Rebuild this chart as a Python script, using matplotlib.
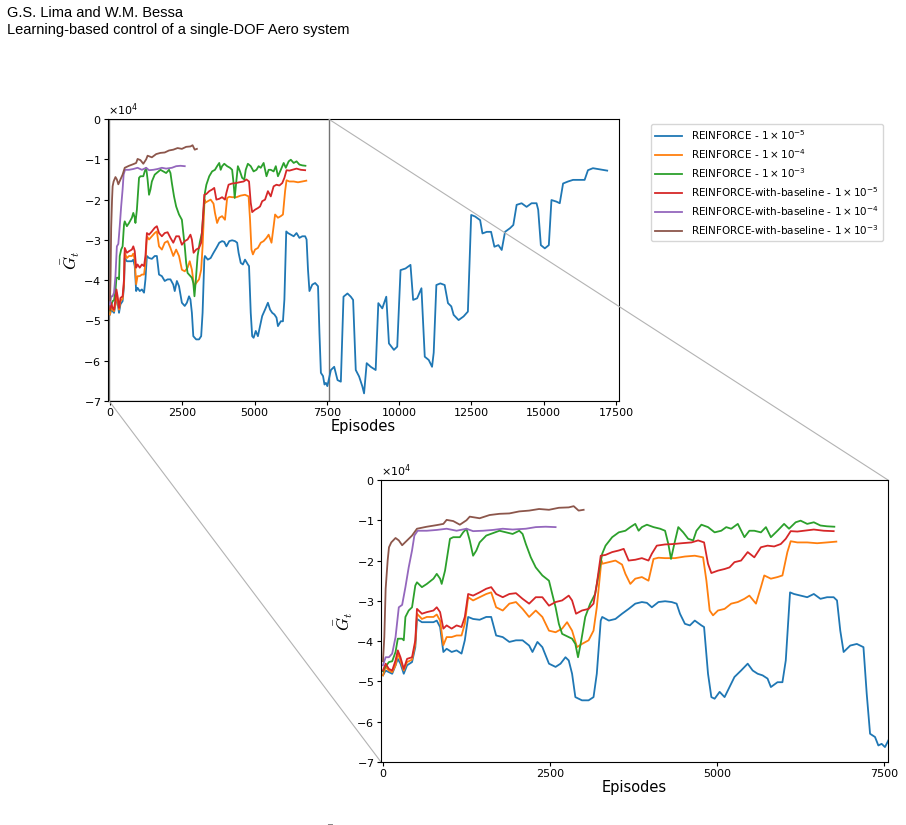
import matplotlib
matplotlib.use("Agg")
import matplotlib.pyplot as plt
from mpl_toolkits.axes_grid1.inset_locator import mark_inset

plt.rcParams['axes.unicode_minus'] = False
plt.rcParams['mathtext.fontset'] = 'dejavusans'

# values are in units of 1e4
SCALE = 1e4

labels = [
    r'REINFORCE - $1\times10^{-5}$',
    r'REINFORCE - $1\times10^{-4}$',
    r'REINFORCE - $1\times10^{-3}$',
    r'REINFORCE-with-baseline - $1\times10^{-5}$',
    r'REINFORCE-with-baseline - $1\times10^{-4}$',
    r'REINFORCE-with-baseline - $1\times10^{-3}$',
]
colors = ['#1f77b4', '#ff7f0e', '#2ca02c', '#d62728', '#9467bd', '#8c564b']

blue_ep = [0, 40, 89, 138, 188, 222, 262, 311, 361, 435, 484, 509, 583, 657, 756, 805, 855, 904, 953, 1028,
           1102, 1176, 1225, 1275, 1349, 1447, 1546, 1620, 1694, 1793, 1892, 1991, 2090, 2188, 2238, 2312, 2386,
           2485, 2584, 2658, 2732, 2781, 2831, 2880, 2979, 3078, 3152, 3201, 3260, 3282, 3381, 3480, 3579, 3678,
           3777, 3876, 3951, 4025, 4124, 4223, 4322, 4396, 4446, 4520, 4594, 4668, 4767, 4807, 4866, 4916, 4965,
           5040, 5114, 5188, 5262, 5361, 5460, 5535, 5609, 5683, 5757, 5807, 5906, 5980, 6030, 6094, 6153, 6252,
           6351, 6450, 6549, 6648, 6747, 6797, 6846, 6896, 6995, 7094, 7193, 7242, 7292, 7366, 7416, 7465, 7515,
           7638, 7752, 7867, 7982, 8074, 8211, 8326, 8406, 8498, 8613, 8727, 8785, 8876, 9014, 9186, 9278, 9415,
           9553, 9645, 9817, 9932, 10046, 10218, 10390, 10482, 10620, 10769, 10884, 11021, 11136, 11193, 11285,
           11423, 11572, 11687, 11801, 11882, 12054, 12226, 12375, 12489, 12627, 12799, 12879, 13028, 13177, 13292,
           13430, 13545, 13660, 13831, 13946, 14061, 14233, 14405, 14577, 14749, 14806, 14898, 15036, 15174, 15265,
           15437, 15552, 15667, 15839, 16011, 16240, 16412, 16527, 16699, 16871, 17043, 17192]
blue_g = [-4.85, -4.73, -4.77, -4.81, -4.6, -4.44, -4.56, -4.81, -4.6, -4.52, -4.15, -3.45, -3.53, -3.53, -3.53,
          -3.49, -3.65, -4.27, -4.19, -4.27, -4.23, -4.31, -3.98, -3.4, -3.45, -3.47, -3.4, -3.4, -3.86, -3.9,
          -4.02, -3.98, -3.98, -4.11, -4.27, -4.02, -4.15, -4.56, -4.64, -4.56, -4.4, -4.48, -4.81, -5.39, -5.47,
          -5.47, -5.39, -4.81, -3.49, -3.4, -3.49, -3.45, -3.32, -3.2, -3.07, -3.03, -3.05, -3.16, -3.03, -3.01,
          -3.03, -3.07, -3.32, -3.57, -3.61, -3.49, -3.61, -3.65, -4.81, -5.39, -5.43, -5.26, -5.39, -5.14, -4.89,
          -4.73, -4.56, -4.73, -4.81, -4.85, -4.93, -5.14, -5.02, -5.02, -4.48, -2.79, -2.83, -2.87, -2.91, -2.83,
          -2.95, -2.91, -2.91, -2.99, -3.74, -4.27, -4.11, -4.07, -4.15, -5.31, -6.3, -6.38, -6.59, -6.55, -6.63,
          -6.23, -6.15, -6.48, -6.52, -4.41, -4.33, -4.41, -4.49, -6.23, -6.39, -6.64, -6.81, -6.06, -6.15, -6.23,
          -4.57, -4.7, -4.41, -5.57, -5.73, -5.65, -3.75, -3.71, -3.62, -4.49, -4.45, -4.2, -5.9, -5.98, -6.15,
          -5.8, -4.12, -4.08, -4.12, -4.57, -4.65, -4.86, -4.99, -4.9, -4.78, -2.38, -2.42, -2.51, -2.84, -2.8,
          -2.8, -3.17, -3.13, -3.25, -2.8, -2.71, -2.63, -2.13, -2.09, -2.18, -2.09, -2.09, -2.25, -3.13, -3.21,
          -3.13, -2.01, -2.05, -2.09, -1.6, -1.55, -1.51, -1.51, -1.51, -1.27, -1.22, -1.24, -1.26, -1.28]

orange_ep = [0, 40, 89, 138, 188, 222, 262, 311, 361, 435, 484, 509, 583, 657, 756, 805, 855, 904, 953, 1028,
             1102, 1176, 1225, 1275, 1349, 1447, 1546, 1620, 1694, 1793, 1892, 1991, 2090, 2188, 2287, 2386, 2485,
             2584, 2682, 2756, 2831, 2905, 2979, 3078, 3152, 3201, 3270, 3282, 3381, 3480, 3579, 3629, 3703, 3777,
             3876, 3975, 4050, 4124, 4223, 4371, 4520, 4668, 4792, 4842, 4891, 4941, 5015, 5114, 5213, 5312, 5411,
             5485, 5584, 5658, 5708, 5807, 5906, 5980, 6054, 6104, 6203, 6351, 6500, 6648, 6787]
orange_g = [-4.85, -4.64, -4.73, -4.77, -4.6, -4.31, -4.48, -4.73, -4.52, -4.46, -4.07, -3.32, -3.45, -3.4, -3.4,
            -3.34, -3.49, -4.1, -3.9, -3.9, -3.86, -3.86, -3.57, -2.91, -2.99, -2.91, -2.83, -2.79, -3.16, -3.24,
            -3.07, -3.03, -3.2, -3.4, -3.24, -3.4, -3.74, -3.78, -3.69, -3.53, -3.74, -4.15, -4.07, -3.98, -3.74,
            -3.16, -2.0, -2.08, -2.04, -2.0, -2.1, -2.33, -2.58, -2.45, -2.41, -2.5, -1.96, -1.93, -1.94, -1.94,
            -1.9, -1.88, -1.92, -2.5, -3.24, -3.36, -3.24, -3.2, -3.07, -3.03, -2.95, -2.87, -3.07, -2.66, -2.37,
            -2.45, -2.41, -2.37, -1.79, -1.52, -1.55, -1.55, -1.57, -1.55, -1.53]

green_ep = [0, 15, 89, 138, 188, 222, 287, 311, 336, 385, 435, 484, 509, 583, 657, 756, 805, 855, 879, 929,
            1003, 1052, 1151, 1200, 1250, 1299, 1349, 1398, 1447, 1546, 1645, 1744, 1843, 1941, 2040, 2090, 2139,
            2213, 2287, 2386, 2485, 2534, 2584, 2633, 2682, 2781, 2831, 2880, 2920, 2969, 3028, 3102, 3176, 3282,
            3332, 3431, 3530, 3629, 3703, 3777, 3827, 3876, 3951, 4050, 4149, 4223, 4272, 4312, 4361, 4421, 4495,
            4569, 4644, 4693, 4767, 4866, 4965, 5064, 5139, 5213, 5312, 5411, 5485, 5559, 5658, 5733, 5807, 5906,
            6005, 6079, 6178, 6252, 6351, 6450, 6549, 6648, 6757]
green_g = [-4.75, -4.69, -4.52, -4.5, -4.27, -3.94, -3.94, -3.98, -3.4, -3.24, -3.16, -2.62, -2.54, -2.66, -2.58,
           -2.45, -2.33, -2.45, -2.58, -2.25, -1.46, -1.42, -1.42, -1.3, -1.21, -1.5, -1.88, -1.75, -1.55, -1.38,
           -1.32, -1.26, -1.3, -1.34, -1.26, -1.34, -1.59, -1.92, -2.17, -2.37, -2.5, -2.83, -3.16, -3.57, -3.82,
           -3.9, -3.94, -4.07, -4.4, -3.98, -3.4, -3.07, -2.83, -1.83, -1.63, -1.42, -1.3, -1.26, -1.17, -1.09,
           -1.26, -1.17, -1.11, -1.17, -1.21, -1.26, -1.59, -1.96, -1.59, -1.17, -1.3, -1.46, -1.5, -1.26, -1.11,
           -1.17, -1.3, -1.26, -1.17, -1.21, -1.09, -1.42, -1.26, -1.26, -1.3, -1.17, -1.42, -1.26, -1.09, -1.21,
           -1.05, -1.01, -1.09, -1.05, -1.13, -1.15, -1.16]

red_ep = [0, 40, 89, 138, 188, 222, 262, 311, 361, 435, 484, 509, 583, 657, 756, 805, 855, 904, 953, 1028,
          1102, 1176, 1225, 1275, 1349, 1447, 1546, 1620, 1694, 1793, 1892, 1991, 2090, 2188, 2287, 2386, 2485,
          2584, 2682, 2781, 2831, 2890, 2979, 3078, 3152, 3201, 3260, 3332, 3431, 3530, 3604, 3678, 3777, 3876,
          3975, 4025, 4099, 4223, 4347, 4470, 4619, 4718, 4807, 4866, 4916, 5015, 5114, 5188, 5262, 5361, 5460,
          5559, 5658, 5757, 5856, 5955, 6030, 6104, 6203, 6302, 6450, 6599, 6747]
red_g = [-4.73, -4.56, -4.69, -4.73, -4.48, -4.23, -4.4, -4.69, -4.44, -4.4, -3.98, -3.2, -3.32, -3.28, -3.24,
         -3.16, -3.28, -3.69, -3.61, -3.69, -3.61, -3.65, -3.4, -2.83, -2.87, -2.79, -2.7, -2.66, -2.83, -2.91,
         -2.83, -2.81, -2.95, -3.07, -2.91, -2.91, -3.12, -3.03, -2.99, -2.87, -2.99, -3.32, -3.24, -3.2, -3.07,
         -2.58, -1.88, -1.86, -1.79, -1.75, -1.71, -2.0, -1.98, -1.94, -2.0, -1.83, -1.63, -1.6, -1.59, -1.57,
         -1.55, -1.5, -1.55, -2.08, -2.31, -2.25, -2.21, -2.17, -2.04, -2.0, -1.79, -1.92, -1.67, -1.63, -1.65,
         -1.59, -1.46, -1.27, -1.28, -1.26, -1.23, -1.26, -1.27]

purple_ep = [0, 40, 89, 138, 188, 237, 287, 336, 385, 435, 470, 519, 657, 805, 953, 1102, 1250, 1349, 1497,
             1645, 1793, 1941, 2139, 2287, 2435, 2584]
purple_g = [-4.6, -4.4, -4.4, -4.31, -3.9, -3.16, -3.1, -2.66, -2.17, -1.75, -1.38, -1.26, -1.26, -1.24, -1.21,
            -1.26, -1.21, -1.27, -1.26, -1.24, -1.21, -1.23, -1.21, -1.17, -1.16, -1.17]

brown_ep = [0, 20, 40, 70, 90, 124, 188, 237, 287, 361, 435, 509, 657, 805, 904, 953, 1052, 1151, 1250, 1299,
            1447, 1596, 1744, 1892, 2040, 2188, 2337, 2485, 2633, 2781, 2855, 2929, 3004]
brown_g = [-4.5, -3.9, -2.7, -2.0, -1.67, -1.55, -1.44, -1.5, -1.62, -1.5, -1.38, -1.21, -1.16, -1.12, -1.09,
           -0.99, -1.02, -1.11, -1.0, -0.91, -0.95, -0.87, -0.84, -0.83, -0.78, -0.76, -0.72, -0.74, -0.69, -0.68,
           -0.65, -0.76, -0.74]

series = [(blue_ep, blue_g), (orange_ep, orange_g), (green_ep, green_g),
          (red_ep, red_g), (purple_ep, purple_g), (brown_ep, brown_g)]

main_xticks = [0, 2500, 5000, 7500, 10000, 12500, 15000, 17500]
zoom_xticks = [0, 2500, 5000, 7500]
yticks = [0, -10000, -20000, -30000, -40000, -50000, -60000, -70000]

fig = plt.figure(figsize=(9.06, 8.25), dpi=100)

fig.text(0.008, 0.993, "G.S. Lima and W.M. Bessa\nLearning-based control of a single-DOF Aero system",
         ha='left', va='top', fontsize=10.5, family='Liberation Sans', linespacing=1.25)

ax = fig.add_axes([0.1192, 0.5139, 0.564, 0.3418])
axz = fig.add_axes([0.4205, 0.0764, 0.5596, 0.3418])

for a in (ax, axz):
    for (ep, g), c, lab in zip(series, colors, labels):
        a.plot(ep, [v * SCALE for v in g], color=c, lw=1.3, label=lab)
    a.set_ylim(-70000, 0)
    a.set_yticks(yticks)
    a.ticklabel_format(axis='y', style='sci', scilimits=(0, 0), useMathText=True)
    a.yaxis.get_offset_text().set_fontsize(8)
    a.tick_params(labelsize=8, length=3, pad=2)
    a.set_xlabel('Episodes', fontsize=10.5, labelpad=1)
    a.set_ylabel(r'$\bar{G}_t$', fontsize=12, labelpad=1, math_fontfamily='cm')

ax.set_xlim(-70, 17600)
ax.set_xticks(main_xticks)
axz.set_xlim(-30, 7560)
axz.set_xticks(zoom_xticks)

rect, c1, c2 = mark_inset(ax, axz, loc1=1, loc2=3, fc='none', ec='0.45', lw=1.0)
for c in (c1, c2):
    c.set_edgecolor('0.7')
    c.set_linewidth(0.8)

h, l = ax.get_legend_handles_labels()
fig.legend(h, l, loc='upper left', bbox_to_anchor=(0.7185, 0.8497), borderaxespad=0,
           fontsize=7.5, handlelength=2.6, labelspacing=0.5, frameon=True)

fig.text(0.357, 0.0025, r'$\bar{G}_t$', fontsize=10, ha='left', va='top', math_fontfamily='cm')

fig.savefig('out.png', dpi=100)
